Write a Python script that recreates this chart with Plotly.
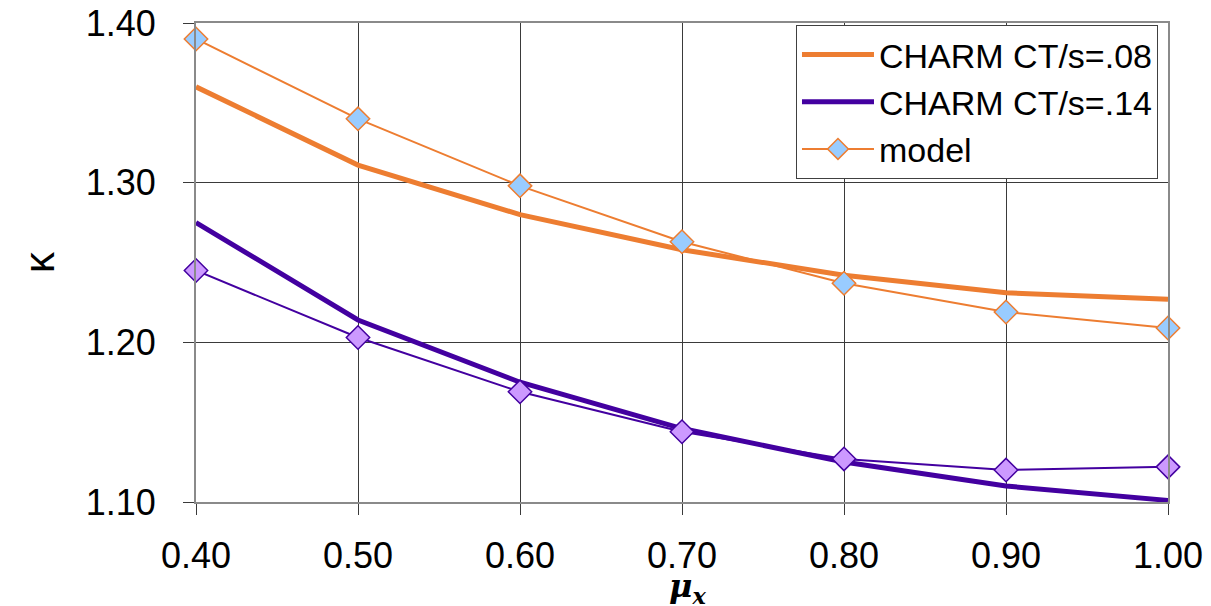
import plotly.graph_objects as go

mu_x = [0.40, 0.50, 0.60, 0.70, 0.80, 0.90, 1.00]
charm_08 = [1.360, 1.311, 1.280, 1.258, 1.242, 1.231, 1.227]
charm_14 = [1.275, 1.214, 1.175, 1.146, 1.125, 1.110, 1.101]
model_08 = [1.390, 1.340, 1.298, 1.263, 1.237, 1.219, 1.209]
model_14 = [1.245, 1.203, 1.169, 1.144, 1.127, 1.120, 1.122]

x_ticks = [0.40, 0.50, 0.60, 0.70, 0.80, 0.90, 1.00]
x_ticklabels = ["0.40", "0.50", "0.60", "0.70", "0.80", "0.90", "1.00"]
y_ticks = [1.10, 1.20, 1.30, 1.40]
y_ticklabels = ["1.10", "1.20", "1.30", "1.40"]

ORANGE = "#ED7D31"
PURPLE = "#4300A0"
FONT = "Liberation Sans, Arial, sans-serif"

fig = go.Figure()
fig.add_trace(go.Scatter(x=mu_x, y=charm_08, mode="lines", name="CHARM CT/s=.08",
                         line=dict(color=ORANGE, width=5)))
fig.add_trace(go.Scatter(x=mu_x, y=charm_14, mode="lines", name="CHARM CT/s=.14",
                         line=dict(color=PURPLE, width=5)))
fig.add_trace(go.Scatter(x=mu_x, y=model_08, mode="lines+markers", name="model",
                         line=dict(color=ORANGE, width=2),
                         marker=dict(symbol="diamond", size=18, color="#99CCFF",
                                     line=dict(color=ORANGE, width=1.5)),
                         cliponaxis=False))
fig.add_trace(go.Scatter(x=mu_x, y=model_14, mode="lines+markers", name="model .14",
                         showlegend=False,
                         line=dict(color=PURPLE, width=2),
                         marker=dict(symbol="diamond", size=18, color="#CC99FF",
                                     line=dict(color=PURPLE, width=1.5)),
                         cliponaxis=False))

fig.update_layout(
    width=1203, height=598,
    margin=dict(l=188, r=43, t=15, b=104, autoexpand=False),
    paper_bgcolor="white", plot_bgcolor="white",
    font=dict(family=FONT, color="black", size=30),
    legend=dict(x=0.9897, y=0.996, xanchor="right", yanchor="top",
                bordercolor="#404040", borderwidth=1, bgcolor="white",
                font=dict(size=34), tracegroupgap=0, itemwidth=72),
    showlegend=True,
    annotations=[
        dict(text="<b><i>μ</i></b><sub><b><i>x</i></b></sub>",
             x=0.506, y=-0.18, xref="paper", yref="paper",
             xanchor="center", yanchor="middle", showarrow=False,
             font=dict(family="DejaVu Serif, Liberation Serif, serif", size=32)),
        dict(text="κ", x=-0.161, y=0.5, xref="paper", yref="paper",
             xanchor="center", yanchor="middle", showarrow=False, textangle=-90,
             font=dict(family=FONT, size=42)),
    ],
)
fig.update_xaxes(range=[0.4, 1.0], tickmode="array", tickvals=x_ticks,
                 ticktext=x_ticklabels, ticklabeloverflow="allow",
                 automargin=False,
                 showgrid=True, gridcolor="#3a3a3a", gridwidth=1,
                 showline=True, linecolor="#8a8a8a", linewidth=2, mirror=True,
                 ticks="outside", ticklen=11, tickcolor="#3a3a3a",
                 ticklabelstandoff=10,
                 tickfont=dict(size=36), zeroline=False)
fig.update_yaxes(range=[1.1, 1.4], tickmode="array", tickvals=y_ticks,
                 ticktext=y_ticklabels, ticklabeloverflow="allow",
                 automargin=False,
                 showgrid=True, gridcolor="#3a3a3a", gridwidth=1,
                 showline=True, linecolor="#8a8a8a", linewidth=2, mirror=True,
                 ticks="outside", ticklen=11, tickcolor="#3a3a3a",
                 ticklabelstandoff=20,
                 tickfont=dict(size=36), zeroline=False)

fig.write_html("out.html")
